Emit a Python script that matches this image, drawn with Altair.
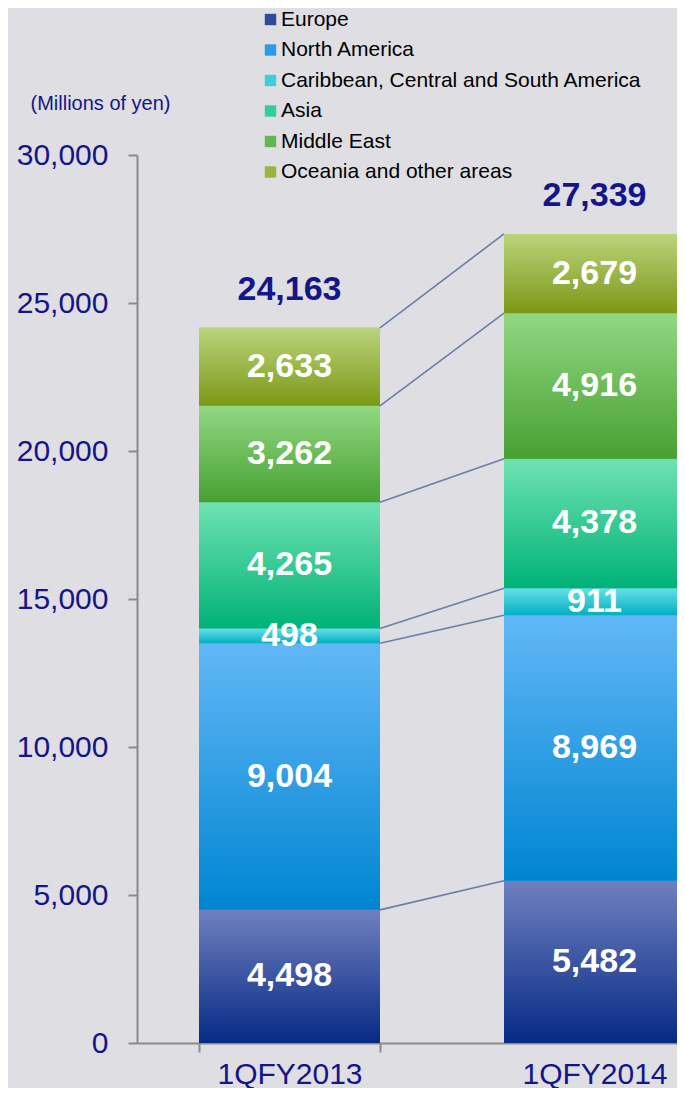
import altair as alt
import pandas as pd

periods = ["1QFY2013", "1QFY2014"]
regions = ["Europe", "North America", "Caribbean, Central and South America",
           "Asia", "Middle East", "Oceania and other areas"]
values_2013 = [4498, 9004, 498, 4265, 3262, 2633]
values_2014 = [5482, 8969, 911, 4378, 4916, 2679]
totals = [24163, 27339]

legend_colors = ["#2f4a9c", "#2c9be8", "#3fcfdc", "#2ecf9a", "#5fb84f", "#9ab53d"]
grad_top = ["#7080bf", "#62b8f6", "#66dfe9", "#6fe2b2", "#92d882", "#bad47c"]
grad_bot = ["#062a85", "#0085d2", "#00b0c2", "#00b278", "#47a032", "#7c9816"]

rows = []
for i, r in enumerate(regions):
    rows.append({"period": periods[0], "region": r, "value": values_2013[i], "order": i})
    rows.append({"period": periods[1], "region": r, "value": values_2014[i], "order": i})
df = pd.DataFrame(rows)

tot_df = pd.DataFrame({"period": periods, "total": totals,
                       "top": [sum(values_2013), sum(values_2014)]})

c13 = pd.Series(values_2013).cumsum().tolist()
c14 = pd.Series(values_2014).cumsum().tolist()
line_df = pd.DataFrame({"p1": [periods[0]] * len(regions), "p2": [periods[1]] * len(regions),
                        "y13": c13, "y14": c14})

NAVY = "#15158a"
FONT = "Liberation Sans"

xscale = alt.Scale(domain=periods, range=[0, 610], paddingInner=0.4066, paddingOuter=0.2033)
yscale = alt.Scale(domain=[0, 30000], nice=False)

xenc = alt.X("period:N", scale=xscale, sort=periods,
             axis=alt.Axis(title=None, labelAngle=0, labelFontSize=30, labelColor=NAVY,
                           labelFont=FONT, labelPadding=7, tickBand="extent", tickSize=9,
                           domainColor="#8a8a8a", tickColor="#8a8a8a", domainWidth=2,
                           tickWidth=2))
yaxis = alt.Axis(values=[0, 5000, 10000, 15000, 20000, 25000, 30000], format=",d",
                 title="(Millions of yen)", titleAngle=0, titleX=-37, titleY=-52,
                 titleAlign="center", titleBaseline="middle", titleFontSize=20,
                 titleFontWeight="normal", titleColor=NAVY, titleFont=FONT,
                 labelFontSize=30, labelColor=NAVY, labelFont=FONT, labelPadding=20,
                 tickSize=9, grid=False, domainColor="#8a8a8a", tickColor="#8a8a8a",
                 domainWidth=2, tickWidth=2)

stacked = alt.Chart(df).transform_stack(
    stack="value", groupby=["period"], sort=[alt.SortField("order", order="ascending")],
    as_=["y0", "y1"]
)

base = stacked.mark_bar().encode(
    x=xenc,
    y=alt.Y("y0:Q", scale=yscale, axis=yaxis),
    y2="y1:Q",
    color=alt.Color("region:N", sort=regions,
                    scale=alt.Scale(domain=regions, range=legend_colors),
                    legend=alt.Legend(title=None, orient="none", legendX=123, legendY=-146,
                                      symbolType="square", symbolSize=130,
                                      symbolStrokeWidth=0, labelFontSize=21,
                                      labelFont=FONT, labelColor="#000000",
                                      labelLimit=0, rowPadding=8.5, labelOffset=0)),
)

layers = [base]
for i, r in enumerate(regions):
    grad = alt.Gradient(gradient="linear", x1=0, x2=0, y1=0, y2=1,
                        stops=[alt.GradientStop(color=grad_top[i], offset=0),
                               alt.GradientStop(color=grad_bot[i], offset=1)])
    layers.append(
        stacked.transform_filter(alt.datum.region == r).mark_bar(color=grad).encode(
            x=alt.X("period:N", scale=xscale, sort=periods),
            y=alt.Y("y0:Q", scale=yscale),
            y2="y1:Q",
        )
    )

seg_text = stacked.transform_calculate(mid="(datum.y0 + datum.y1) / 2").mark_text(
    color="white", fontSize=34, fontWeight="bold", font=FONT, baseline="middle"
).encode(
    x=alt.X("period:N", scale=xscale, sort=periods),
    y=alt.Y("mid:Q", scale=yscale),
    text=alt.Text("value:Q", format=","),
)

tot_text = alt.Chart(tot_df).mark_text(
    color=NAVY, fontSize=34, fontWeight="bold", font=FONT, baseline="middle", dy=-38
).encode(
    x=alt.X("period:N", scale=xscale, sort=periods),
    y=alt.Y("top:Q", scale=yscale),
    text=alt.Text("total:Q", format=","),
)

lines = alt.Chart(line_df).mark_rule(color="#6a7ea6", strokeWidth=1.6).encode(
    x=alt.X("p1:N", scale=xscale, sort=periods, bandPosition=1),
    x2=alt.X2("p2:N", bandPosition=0),
    y=alt.Y("y13:Q", scale=yscale),
    y2=alt.Y2("y14:Q"),
)

chart = alt.layer(*layers, lines, seg_text, tot_text).properties(
    width=540, height=888,
    autosize=alt.AutoSizeParams(type="none"),
    padding={"left": 129, "top": 147, "right": 0, "bottom": 45},
    background="#dfdfe3",
).configure_view(stroke=None)

chart.save("out.html", embed_options={"renderer": "svg", "actions": False})
